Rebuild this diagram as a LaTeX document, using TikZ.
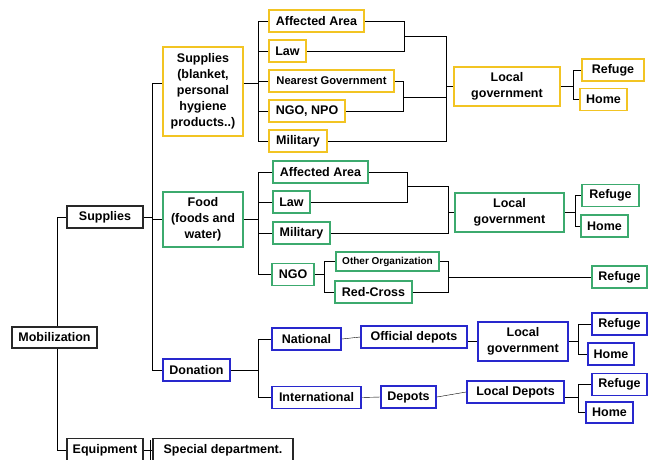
\documentclass[tikz,border=0pt]{standalone}
\usepackage{fontspec}
\setmainfont{Liberation Sans}
\usetikzlibrary{backgrounds}
\definecolor{cy}{RGB}{242,196,35}
\definecolor{cg}{RGB}{60,170,110}
\definecolor{cb}{RGB}{40,40,205}
\definecolor{ck}{RGB}{40,40,40}
\tikzset{
  bx/.style={draw, line width=1.7pt, fill=white, inner sep=0pt, align=center,
    font=\fontsize{12.5}{16}\selectfont\bfseries, text=black},
  ybox/.style={bx, draw=cy},
  gbox/.style={bx, draw=cg},
  bbox/.style={bx, draw=cb},
  kbox/.style={bx, draw=ck},
  wh/.style 2 args={minimum width=#1, minimum height=#2},
  con/.style={line width=1.7pt, draw=ck}
}
\begin{document}
\begin{tikzpicture}[x=1pt,y=-1pt]
\useasboundingbox (0,0) rectangle (652,459);
% black
\node[kbox, wh={85}{21}] (mob) at (54.5,337.5) {Mobilization};
\node[kbox, wh={76}{22}] (sup0) at (105,217) {Supplies};
\node[kbox, wh={76}{23}] (eq) at (105,450) {Equipment};
\node[kbox, wh={140}{23}] (spd) at (223,450) {Special department.};
% yellow
\node[ybox, wh={80}{89}] (sup1) at (203,91.5) {Supplies\\(blanket,\\personal\\hygiene\\products..)};
\node[ybox, wh={95}{22}] (aa1) at (316.5,21) {Affected Area};
\node[ybox, wh={37}{22}] (law1) at (287.5,51) {Law};
\node[ybox, wh={125}{22}, font=\fontsize{11.2}{14}\selectfont\bfseries] (ng1) at (331.5,81) {Nearest Government};
\node[ybox, wh={76}{22}] (npo1) at (307,111) {NGO, NPO};
\node[ybox, wh={58}{22}] (mil1) at (298,141) {Military};
\node[ybox, wh={106}{39}] (lg1) at (507,86.5) {Local\\government};
\node[ybox, wh={62}{22}] (ref1) at (613,70) {Refuge};
\node[ybox, wh={47}{22}] (home1) at (603.5,99.5) {Home};
% green
\node[gbox, wh={80}{55}] (food) at (203,219.5) {Food\\(foods and\\water)};
\node[gbox, wh={95}{22}] (aa2) at (320.5,172) {Affected Area};
\node[gbox, wh={37}{22}] (law2) at (291.5,202) {Law};
\node[gbox, wh={57}{22}] (mil2) at (301.5,233) {Military};
\node[gbox, wh={42}{22}] (ngo2) at (293,274.5) {NGO};
\node[gbox, wh={103}{19}, font=\fontsize{10}{12}\selectfont\bfseries] (oth) at (387.5,261.5) {Other Organization};
\node[gbox, wh={77}{22}] (rc) at (373.5,292) {Red-Cross};
\node[gbox, wh={109}{39}] (lg2) at (509.5,212.5) {Local\\government};
\node[gbox, wh={57}{22}] (ref2) at (610.5,195.5) {Refuge};
\node[gbox, wh={47}{22}] (home2) at (604.5,226) {Home};
\node[gbox, wh={55}{22}] (ref3) at (619.5,277) {Refuge};
% blue
\node[bbox, wh={67}{22}] (don) at (196.5,370) {Donation};
\node[bbox, wh={69}{22}] (nat) at (306.5,339) {National};
\node[bbox, wh={89}{22}] (intl) at (316.5,397.5) {International};
\node[bbox, wh={106}{22}] (od) at (414,337) {Official depots};
\node[bbox, wh={90}{39}] (lg3) at (523,341.5) {Local\\government};
\node[bbox, wh={55}{22}] (ref4) at (619.5,324) {Refuge};
\node[bbox, wh={46}{22}] (home4) at (611,354) {Home};
\node[bbox, wh={55}{22}] (dep) at (408.5,397) {Depots};
\node[bbox, wh={97}{22}] (ld) at (515.5,392) {Local Depots};
\node[bbox, wh={55}{22}] (ref5) at (619.5,384.5) {Refuge};
\node[bbox, wh={47}{21}] (home5) at (609.5,412.5) {Home};
% junction coordinates
\coordinate (mt) at (57,337);
\coordinate (j1) at (152,83);
\coordinate (y0) at (258,83);
\coordinate (y1) at (404,36);
\coordinate (y2) at (446,36);
\coordinate (y3) at (403,97);
\coordinate (y4) at (573,86);
\coordinate (g0) at (258,218);
\coordinate (g1) at (407,186);
\coordinate (g2) at (448,186);
\coordinate (g3) at (575,212);
\coordinate (g4) at (324,275);
\coordinate (g5) at (448,277);
\coordinate (b0) at (258,370);
\coordinate (b1) at (578,341);
\coordinate (b2) at (578,397);
\coordinate (e1) at (150,440);
\begin{scope}[on background layer, con]
% mobilization trunk
\draw (sup0.west) -- (sup0.west -| mt) -- (eq.west -| mt) -- (eq.west);
% main trunk
\draw (sup0.east) -- (sup0.east -| j1);
\draw (j1 -| sup1.west) -- (j1) -- (don.west -| j1) -- (don.west);
\draw (food.west) -- (food.west -| j1);
% equipment
\draw (eq.east) -- (spd.west);
\draw (e1) -- (e1 |- spd.south);
% yellow
\draw (y0 -| sup1.east) -- (y0);
\draw (aa1.west) -- (aa1.west -| y0) -- (mil1.west -| y0) -- (mil1.west);
\draw (law1.west) -- (law1.west -| y0);
\draw (ng1.west) -- (ng1.west -| y0);
\draw (npo1.west) -- (npo1.west -| y0);
\draw (aa1.east) -- (aa1.east -| y1) -- (law1.east -| y1) -- (law1.east);
\draw (y1) -- (y2) -- (mil1.east -| y2) -- (mil1.east);
\draw (ng1.east) -- (ng1.east -| y3) -- (npo1.east -| y3) -- (npo1.east);
\draw (y3) -- (y3 -| y2);
\draw (lg1.west) -- (lg1.west -| y2);
\draw (lg1.east) -- (lg1.east -| y4);
\draw (ref1.west) -- (ref1.west -| y4) -- (home1.west -| y4) -- (home1.west);
% green
\draw (food.east) -- (food.east -| g0);
\draw (aa2.west) -- (aa2.west -| g0) -- (ngo2.west -| g0) -- (ngo2.west);
\draw (law2.west) -- (law2.west -| g0);
\draw (mil2.west) -- (mil2.west -| g0);
\draw (aa2.east) -- (aa2.east -| g1) -- (law2.east -| g1) -- (law2.east);
\draw (g1) -- (g2) -- (mil2.east -| g2) -- (mil2.east);
\draw (lg2.west) -- (lg2.west -| g2);
\draw (lg2.east) -- (lg2.east -| g3);
\draw (ref2.west) -- (ref2.west -| g3) -- (home2.west -| g3) -- (home2.west);
\draw (ngo2.east) -- (ngo2.east -| g4);
\draw (oth.west) -- (oth.west -| g4) -- (rc.west -| g4) -- (rc.west);
\draw (oth.east) -- (oth.east -| g5) -- (rc.east -| g5) -- (rc.east);
\draw (g5) -- (ref3.west);
% blue
\draw (don.east) -- (don.east -| b0);
\draw (nat.west) -- (nat.west -| b0) -- (intl.west -| b0) -- (intl.west);
\draw (nat.east) -- (od.west);
\draw (b1 -| od.east) -- (b1 -| lg3.west);
\draw (lg3.east) -- (lg3.east -| b1);
\draw (ref4.west) -- (ref4.west -| b1) -- (home4.west -| b1) -- (home4.west);
\draw (intl.east) -- (dep.west);
\draw (dep.east) -- (ld.west);
\draw (b2 -| ld.east) -- (b2);
\draw (ref5.west) -- (ref5.west -| b2) -- (home5.west -| b2) -- (home5.west);
\end{scope}
\end{tikzpicture}
\end{document}
